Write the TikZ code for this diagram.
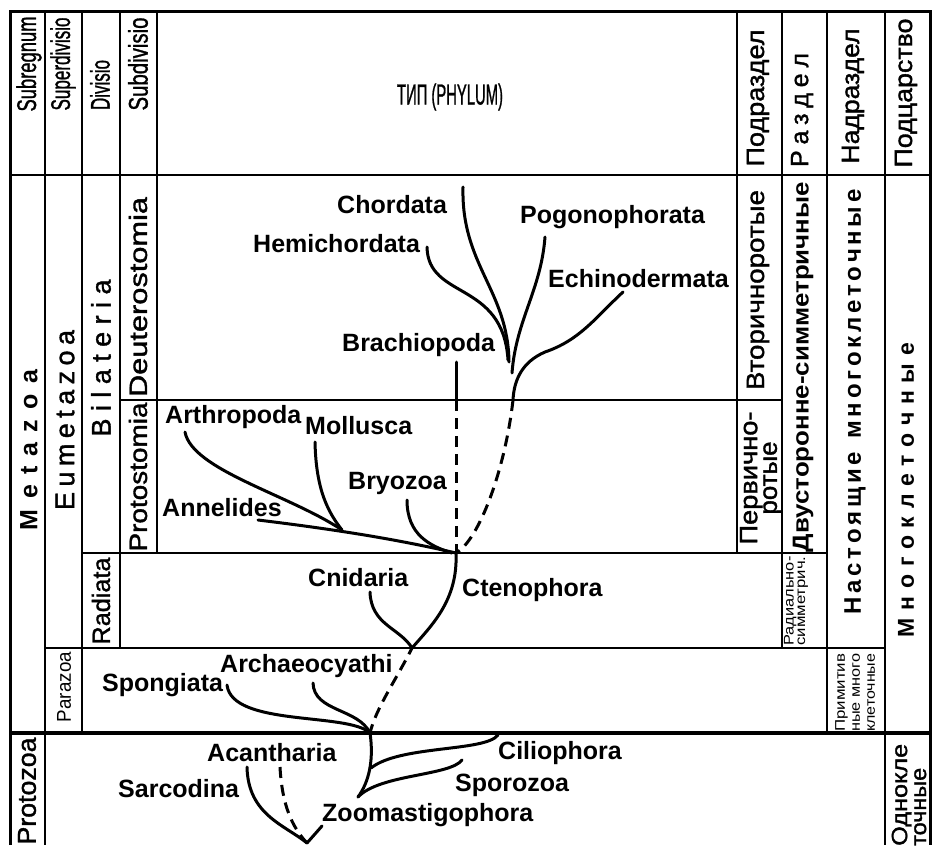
\documentclass[tikz,border=0pt]{standalone}
\usepackage{fontspec}
\setmainfont{Liberation Sans}
\newfontfamily\mf{Liberation Sans}[FakeBold=1.3]
\usepackage{graphicx}
\makeatletter
\newlength\natw
\newcommand\fitw[3]{{\fontsize{#2}{#2}\selectfont\settowidth\natw{#3}\pgfmathsetmacro\fsc{#1/\natw}\scalebox{\fsc}[1]{#3}}}
\newcommand\spreadto[3]{{\fontsize{#2}{#2}\selectfont\makebox[#1pt][s]{\@tfor\ch:=#3\do{\ch\hfil}\unskip}}}
\makeatother
\tikzset{
 gridl/.style={line width=2.4pt},
 outerl/.style={line width=3pt},
 br/.style={line width=3pt, line cap=round},
 dsh/.style={line width=3pt, dash pattern=on 11pt off 7pt},
 tl/.style={font=\bfseries\fontsize{25}{25}\selectfont, inner sep=0pt, anchor=base west},
 vl/.style={rotate=90, inner sep=0pt},
}
\begin{document}
\begin{tikzpicture}[x=1pt,y=-1pt]
\useasboundingbox (0,0) rectangle (933,845);
\fill[white] (0,0) rectangle (933,845);
% ---------- table grid ----------
\draw[outerl] (10,845) -- (10,12) -- (930,12) -- (930,845);
\draw[gridl] (10,175) -- (930,175);
\draw[gridl] (45,12) -- (45,845);
\draw[gridl] (82,12) -- (82,733);
\draw[gridl] (120,12) -- (120,648);
\draw[gridl] (157,12) -- (157,553);
\draw[gridl] (737,12) -- (737,553);
\draw[gridl] (782,12) -- (782,648);
\draw[gridl] (827,12) -- (827,733);
\draw[gridl] (885,12) -- (885,845);
\draw[gridl] (120,400) -- (782,400);
\draw[gridl] (82,553) -- (827,553);
\draw[gridl] (45,648) -- (885,648);
\draw[line width=3.4pt] (10,733) -- (930,733);
% ---------- header labels ----------
\node[vl] (subreg) at (29,64) {\fitw{95}{27}{\mf Subregnum}};
\node[vl] (superdiv) at (63,64) {\fitw{93}{27}{\mf Superdivisio}};
\node[vl] (divisio) at (100,85) {\fitw{50}{27}{\mf Divisio}};
\node[vl] (subdiv) at (138,64) {\fitw{93}{27}{\mf Subdivisio}};
\node (phylum) at (450,97) {\fitw{106}{29}{\mf ТИП (PHYLUM)}};
\node[vl] (podrazdel) at (758,98) {\fitw{137}{25}{\mf Подраздел}};
\node[vl] (razdel) at (802,110) {\mf\spreadto{114}{25}{Раздел}};
\node[vl] (nadrazdel) at (853,96) {\fitw{135}{25}{\mf Надраздел}};
\node[vl] (podcar) at (906,93) {\fitw{149}{25}{\mf Подцарство}};
% ---------- left column labels ----------
\node[vl] (metazoa) at (29,450) {\bfseries\spreadto{160}{25}{Metazoa}};
\node[vl] (eumeta) at (65,420) {\mf\spreadto{180}{27}{Eumetazoa}};
\node[vl] (bilat) at (101,358) {\mf\spreadto{157}{27}{Bilateria}};
\node[vl] (deut) at (138,297) {\fitw{200}{25}{\mf Deuterostomia}};
\node[vl] (prot) at (138,477) {\fitw{149}{25}{\mf Protostomia}};
\node[vl] (radiata) at (101,601) {\fitw{87}{25}{\mf Radiata}};
\node[vl] (parazoa) at (64,687) {\fitw{70}{20}{Parazoa}};
\node[vl] (protozoa) at (27,791) {\fitw{107}{26}{\mf Protozoa}};
% ---------- right column labels ----------
\node[vl] (vtor) at (758,290) {\fitw{200}{25}{\mf Вторичноротые}};
\node[vl, align=center, font=\fontsize{25}{18}\selectfont] (perv) at (761,478)
  {\fitw{133}{25}{\mf Первично-}\\\fitw{73}{25}{\mf ротые}};
\node[vl] (dvust) at (803,367) {\fitw{370}{23}{\bfseries Двусторонне-симметричные}};
\node[vl] (radsym) at (796,601) [align=center, font=\fontsize{14}{10}\selectfont]
  {\fitw{89}{14}{Радиально-}\\\fitw{89}{14}{симметрич.}};
\node[vl] (nastoy) at (855,402) {\bfseries\spreadto{425}{24}{Настоящие{\hspace{6pt}}многоклеточные}};
\node[vl, anchor=west, align=left, font=\fontsize{14}{15}\selectfont] (primit) at (855,732)
  {\fitw{78}{14}{Примитив}\\\fitw{78}{14}{ные много}\\\fitw{78}{14}{клеточные}};
\node[vl] (mnogo) at (906,490) {\bfseries\spreadto{294}{23}{Многоклеточные}};
\node[vl, anchor=west, align=left, font=\fontsize{22}{19}\selectfont] (odnok) at (909,846)
  {\fitw{102}{22}{\mf Однокле}\\\fitw{78}{22}{\mf точные}};
% ---------- tree labels ----------
\node[tl] (chordata) at (337,213) {Chordata};
\node[tl] (hemi) at (253,252) {Hemichordata};
\node[tl] (pogo) at (520,223) {Pogonophorata};
\node[tl] (echi) at (548,287) {Echinodermata};
\node[tl] (brach) at (342,351) {Brachiopoda};
\node[tl] (arth) at (165,423) {Arthropoda};
\node[tl] (moll) at (305,434) {Mollusca};
\node[tl] (anne) at (162,516) {Annelides};
\node[tl] (bryo) at (348,489) {Bryozoa};
\node[tl] (cnid) at (308,586) {Cnidaria};
\node[tl] (cteno) at (462,596) {Ctenophora};
\node[tl] (archa) at (220,672) {Archaeocyathi};
\node[tl] (spong) at (102,691) {Spongiata};
\node[tl] (acan) at (207,761) {Acantharia};
\node[tl] (sarc) at (118,797) {Sarcodina};
\node[tl] (cilio) at (498,759) {Ciliophora};
\node[tl] (sporo) at (455,791) {Sporozoa};
\node[tl] (zoomast) at (322,821) {Zoomastigophora};
% ---------- tree coordinates ----------
\coordinate (sCh) at (463,187);
\coordinate (eCh) at (509,362);
\coordinate (sHe) at (427,247);
\coordinate (eHe) at (508,360);
\coordinate (sPo) at (545,237);
\coordinate (ePo) at (512,373);
\coordinate (sEc) at (623,292);
\coordinate (mEc) at (545,352);
\coordinate (eEc) at (513,400);
\coordinate (sBr) at (456,362);
\coordinate (mBr) at (456,400);
\coordinate (J1) at (456,553);
\coordinate (sAn) at (258,520);
\coordinate (sAr) at (185,432);
\coordinate (jAM) at (342,530);
\coordinate (sMo) at (315,442);
\coordinate (sBy) at (407,500);
\coordinate (eBy) at (452,553);
\coordinate (J2) at (412,648);
\coordinate (sCn) at (370,592);
\coordinate (J3) at (370,733);
\coordinate (sAc) at (313,683);
\coordinate (sSp) at (227,685);
\coordinate (J4) at (358,797);
\coordinate (sCi) at (498,735);
\coordinate (jC) at (371,768);
\coordinate (sSz) at (462,760);
\coordinate (sSa) at (247,767);
\coordinate (sAa) at (280,767);
\coordinate (V) at (307,843);
\coordinate (stub) at (322,826);
% ---------- branches ----------
\draw[br] (sCh) .. controls +(-2,78) and +(-1,-72) .. (eCh);
\draw[br] (sHe) .. controls +(1,53) and +(-5,-80) .. (eHe);
\draw[br] (sPo) .. controls +(-4,53) and +(4,-53) .. (ePo);
\draw[br] (sEc) .. controls +(-28,26) and +(35,-12) .. (mEc)
               .. controls +(-23,10) and +(1,-20) .. (eEc);
\draw[dsh] (eEc) .. controls +(-8,70) and +(23,-13) .. (J1);
\draw[br] (sBr) -- (mBr);
\draw[dsh] (mBr) -- (J1);
\draw[br] (sAn) .. controls +(82,10) and +(-56,-13) .. (J1);
\draw[br] (sAr) .. controls +(7,38) and +(-52,-35) .. (jAM);
\draw[br] (sMo) .. controls +(1,48) and +(-14,-18) .. (jAM);
\draw[br] (sBy) .. controls +(0,35) and +(-22,-7) .. (eBy);
\draw[br] (J1) .. controls +(2,47) and +(20,-23) .. (J2);
\draw[br] (sCn) .. controls +(1,33) and +(-12,-20) .. (J2);
\draw[dsh, dash phase=4pt] (J2) .. controls +(-16,32) and +(6,-25) .. (J3);
\draw[br] (sAc) .. controls +(1,29) and +(-12,-25) .. (J3);
\draw[br] (sSp) .. controls +(5,42) and +(-22,-21) .. (J3);
\draw[br] (J3) .. controls +(4,27) and +(11,-15) .. (J4);
\draw[br] (sCi) .. controls +(-13,17) and +(29,-23) .. (jC);
\draw[br] (sSz) .. controls +(-12,16) and +(22,-23) .. (J4);
\draw[br] (sSa) .. controls +(1,48) and +(-22,-18) .. (V);
\draw[dsh] (sAa) .. controls +(2,38) and +(-15,-16) .. (V);
\draw[br] (V) -- (stub);
\end{tikzpicture}
\end{document}
